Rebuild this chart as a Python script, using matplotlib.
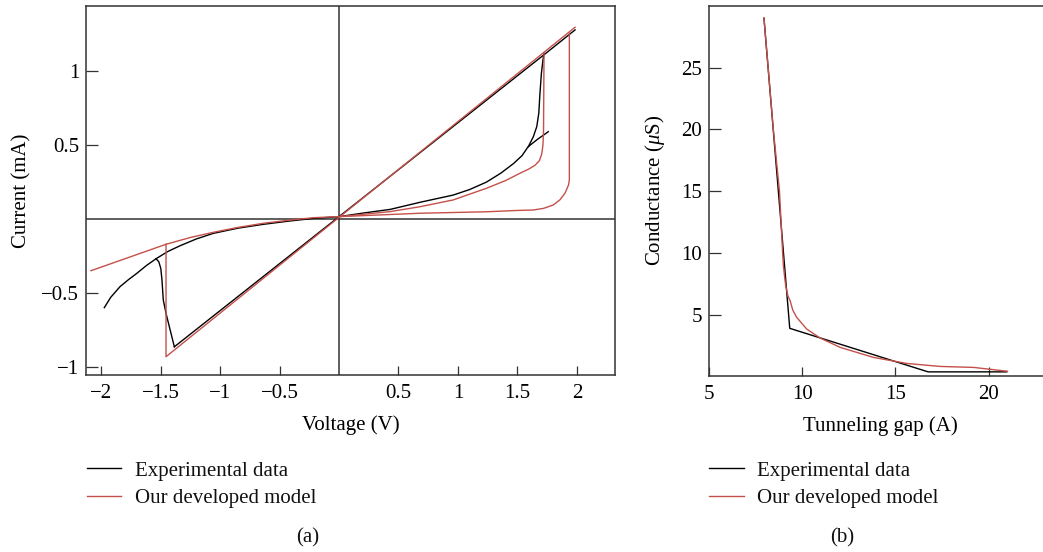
import matplotlib
matplotlib.use("Agg")
import matplotlib.pyplot as plt

# (a) current-voltage loops
exp_off_neg_v = [-1.974, -1.92, -1.842, -1.77, -1.701, -1.62, -1.539, -1.44, -1.337,
                 -1.2, -1.057, -0.85, -0.637, -0.42, -0.216, 0.0]
exp_off_neg_i = [-0.600, -0.53, -0.458, -0.41, -0.368, -0.315, -0.269, -0.22, -0.181,
                 -0.135, -0.097, -0.062, -0.036, -0.014, 0.004, 0.016]
exp_set_neg_v = [-1.539, -1.516, -1.499, -1.489, -1.478, -1.455, -1.427, -1.385]
exp_set_neg_i = [-0.269, -0.289, -0.334, -0.413, -0.548, -0.639, -0.729, -0.865]
exp_on_v = [-1.385, 0.0, 1.724, 1.985]
exp_on_i = [-0.865, 0.016, 1.112, 1.280]
exp_off_pos_v = [0.0, 0.2, 0.43, 0.68, 0.96, 1.1, 1.24, 1.36, 1.47, 1.54, 1.59, 1.67, 1.76]
exp_off_pos_i = [0.016, 0.04, 0.065, 0.113, 0.162, 0.2, 0.25, 0.31, 0.377, 0.43, 0.489,
                 0.54, 0.591]
exp_set_pos_v = [1.592, 1.634, 1.663, 1.68, 1.69, 1.702, 1.715, 1.724]
exp_set_pos_i = [0.489, 0.557, 0.625, 0.716, 0.851, 0.986, 1.076, 1.122]

mod_on_v = [-1.455, -1.455, 1.985]
mod_on_i = [-0.171, -0.932, 1.298]
mod_off_neg_v = [-2.086, -1.455, -1.25, -1.057, -0.85, -0.637, -0.42, -0.216, 0.0]
mod_off_neg_i = [-0.350, -0.171, -0.125, -0.090, -0.057, -0.029, -0.008, 0.009, 0.016]
mod_set1_v = [0.0, 0.43, 0.68, 0.96, 1.24, 1.4, 1.52, 1.6, 1.65, 1.685, 1.705, 1.715,
              1.72, 1.724]
mod_set1_i = [0.016, 0.05, 0.083, 0.129, 0.208, 0.26, 0.309, 0.34, 0.365, 0.395, 0.44,
              0.5, 0.6, 1.122]
mod_set2_v = [0.0, 0.68, 1.24, 1.5, 1.634, 1.72, 1.802, 1.858, 1.90, 1.93, 1.937, 1.937]
mod_set2_i = [0.016, 0.039, 0.049, 0.058, 0.061, 0.072, 0.095, 0.13, 0.174, 0.23, 0.264,
              1.257]

v_ticks = [-2, -1.5, -1, -0.5, 0.5, 1, 1.5, 2]
v_labels = ["\u22122", "\u22121.5", "\u22121", "\u22120.5", "0.5", "1", "1.5", "2"]
i_ticks = [-1, -0.5, 0.5, 1]
i_labels = ["\u22121", "\u22120.5", "0.5", "1"]

# (b) conductance vs tunneling gap
gap_exp = [7.96, 9.34, 16.75, 20.96]
g_exp = [29.0, 3.92, 0.40, 0.40]
gap_model = [7.96, 8.46, 8.79, 8.96, 9.0, 9.07, 9.12, 9.18, 9.25, 9.36, 9.5, 9.71,
             10.25, 10.96, 12.04, 13.82, 15.61, 17.39, 19.18, 21.0]
g_model = [29.0, 20.0, 15.0, 10.0, 9.0, 8.0, 7.4, 6.97, 6.5, 6.16, 5.4, 4.81,
           3.86, 3.14, 2.38, 1.57, 1.08, 0.84, 0.76, 0.45]

gap_ticks = [5, 10, 15, 20]
g_ticks = [5, 10, 15, 20, 25]

BLACK = "#000000"
RED = "#c4504a"
AXIS = "#333333"
FS = 15

plt.rcParams["font.family"] = ["Liberation Serif", "DejaVu Serif"]
plt.rcParams["font.size"] = FS
plt.rcParams["mathtext.fontset"] = "custom"
plt.rcParams["mathtext.rm"] = "Liberation Serif"
plt.rcParams["mathtext.it"] = "Liberation Serif:italic"
plt.rcParams["text.color"] = "#111111"

W, H = 1043, 552
fig = plt.figure(figsize=(W / 100, H / 100), dpi=100)


def px_axes(left, top, right, bottom):
    return fig.add_axes([left / W, 1 - bottom / H, (right - left) / W, (bottom - top) / H])


def style(ax):
    for s in ax.spines.values():
        s.set_color(AXIS)
        s.set_linewidth(1.1)
    ax.tick_params(axis="x", direction="in", length=6.5, width=0.9, color=AXIS,
                   pad=6.5, labelsize=FS)
    ax.tick_params(axis="y", direction="in", length=8.5, width=0.9, color=AXIS,
                   pad=5, labelsize=FS)


lw = 1.0

# panel (a)
ax1 = px_axes(86, 6, 615, 375)
style(ax1)
ax1.axhline(0, color=AXIS, lw=1.1)
ax1.axvline(0, color=AXIS, lw=1.1)
l_exp, = ax1.plot(exp_on_v, exp_on_i, color=BLACK, lw=lw, label="Experimental data")
ax1.plot(exp_off_neg_v, exp_off_neg_i, color=BLACK, lw=lw)
ax1.plot(exp_set_neg_v, exp_set_neg_i, color=BLACK, lw=lw)
ax1.plot(exp_off_pos_v, exp_off_pos_i, color=BLACK, lw=lw)
ax1.plot(exp_set_pos_v, exp_set_pos_i, color=BLACK, lw=lw)
l_mod, = ax1.plot(mod_on_v, mod_on_i, color=RED, lw=lw, label="Our developed model")
ax1.plot(mod_off_neg_v, mod_off_neg_i, color=RED, lw=lw)
ax1.plot(mod_set1_v, mod_set1_i, color=RED, lw=lw)
ax1.plot(mod_set2_v, mod_set2_i, color=RED, lw=lw)
ax1.set_xlim(-2.128, 2.321)
ax1.set_ylim(-1.056, 1.442)
ax1.set_xticks(v_ticks)
ax1.set_xticklabels(v_labels)
ax1.set_yticks(i_ticks)
ax1.set_yticklabels(i_labels)
ax1.set_xlabel("Voltage (V)", va="center")
ax1.xaxis.set_label_coords(0.5, -0.1355)
ax1.set_ylabel("Current (mA)", va="center")
ax1.yaxis.set_label_coords(-0.121, 0.5)

# panel (b)
ax2 = px_axes(708.7, 6, 1051, 375.7)
style(ax2)
ax2.plot(gap_exp, g_exp, color=BLACK, lw=lw)
ax2.plot(gap_model, g_model, color=RED, lw=lw)
ax2.set_xlim(5, 23.33)
ax2.set_ylim(0.09, 29.98)
ax2.set_xticks(gap_ticks)
ax2.set_yticks(g_ticks)
ax2.set_xlabel("Tunneling gap (A)", va="center")
ax2.xaxis.set_label_coords(0.5005, -0.1355)
ax2.set_ylabel(r"Conductance ($\mu$S)", va="center")
ax2.yaxis.set_label_coords(-0.158, 0.5)

leg_kw = dict(loc="upper left", frameon=False, borderpad=0, borderaxespad=0,
              handlelength=1.65, handletextpad=0.65, labelspacing=0.39, fontsize=FS)
fig.legend([l_exp, l_mod], ["Experimental data", "Our developed model"],
           bbox_to_anchor=(86.7 / W, 1 - 461 / H), **leg_kw)
fig.legend([l_exp, l_mod], ["Experimental data", "Our developed model"],
           bbox_to_anchor=(709.3 / W, 1 - 461 / H), **leg_kw)

fig.text(308 / W, 1 - 538 / H, "(a)", ha="center", va="center", fontsize=FS)
fig.text(842 / W, 1 - 538 / H, "(b)", ha="center", va="center", fontsize=FS)

fig.savefig("out.png", dpi=100)
